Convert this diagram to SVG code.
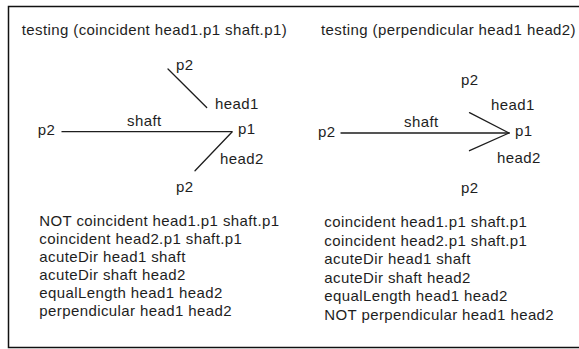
<svg xmlns="http://www.w3.org/2000/svg" width="579" height="349" viewBox="0 0 579 349">
<style>
text{font-family:"Liberation Sans",Arial,sans-serif;font-size:15px;letter-spacing:0.4px;fill:#1e1e1e}
.ln{stroke:#1e1e1e;stroke-width:1.3;fill:none;stroke-linecap:round}
</style>
<rect x="0" y="0" width="579" height="349" fill="#ffffff"/>
<rect id="frame" x="8.5" y="6.5" width="600" height="341" fill="none" stroke="#111" stroke-width="1.5"/>
<g id="left-panel">
<text x="21.7" y="35">testing (coincident head1.p1 shaft.p1)</text>
<g id="connectors-left">
<line class="ln" x1="62" y1="131.7" x2="232" y2="131.7"/>
<line class="ln" x1="168" y1="69" x2="206.7" y2="107.5"/>
<line class="ln" x1="232" y1="132" x2="195" y2="170.7"/>
</g>
<g id="left-labels">
<text x="176" y="70">p2</text>
<text x="215" y="109">head1</text>
<text x="127" y="126">shaft</text>
<text x="37.7" y="135">p2</text>
<text x="238" y="134">p1</text>
<text x="220" y="164">head2</text>
<text x="176" y="192">p2</text>
</g>
<g id="left-facts">
<text x="39.3" y="226">NOT coincident head1.p1 shaft.p1</text>
<text x="39.3" y="244">coincident head2.p1 shaft.p1</text>
<text x="39.3" y="262">acuteDir head1 shaft</text>
<text x="39.3" y="280">acuteDir shaft head2</text>
<text x="39.3" y="298">equalLength head1 head2</text>
<text x="39.3" y="316">perpendicular head1 head2</text>
</g>
</g>
<g id="right-panel">
<text x="321" y="35">testing (perpendicular head1 head2)</text>
<g id="connectors-right">
<line class="ln" x1="341" y1="133" x2="509" y2="133"/>
<line class="ln" x1="469.5" y1="112.7" x2="509" y2="133"/>
<line class="ln" x1="509" y1="133" x2="469.5" y2="150.7"/>
</g>
<g id="right-labels">
<text x="461" y="85">p2</text>
<text x="491" y="110">head1</text>
<text x="404" y="127">shaft</text>
<text x="318" y="136.7">p2</text>
<text x="515" y="135.5">p1</text>
<text x="497" y="163">head2</text>
<text x="461" y="193">p2</text>
</g>
<g id="right-facts">
<text x="324.3" y="227">coincident head1.p1 shaft.p1</text>
<text x="324.3" y="245.5">coincident head2.p1 shaft.p1</text>
<text x="324.3" y="264">acuteDir head1 shaft</text>
<text x="324.3" y="282.5">acuteDir shaft head2</text>
<text x="324.3" y="301">equalLength head1 head2</text>
<text x="324.3" y="319.5">NOT perpendicular head1 head2</text>
</g>
</g>
</svg>
